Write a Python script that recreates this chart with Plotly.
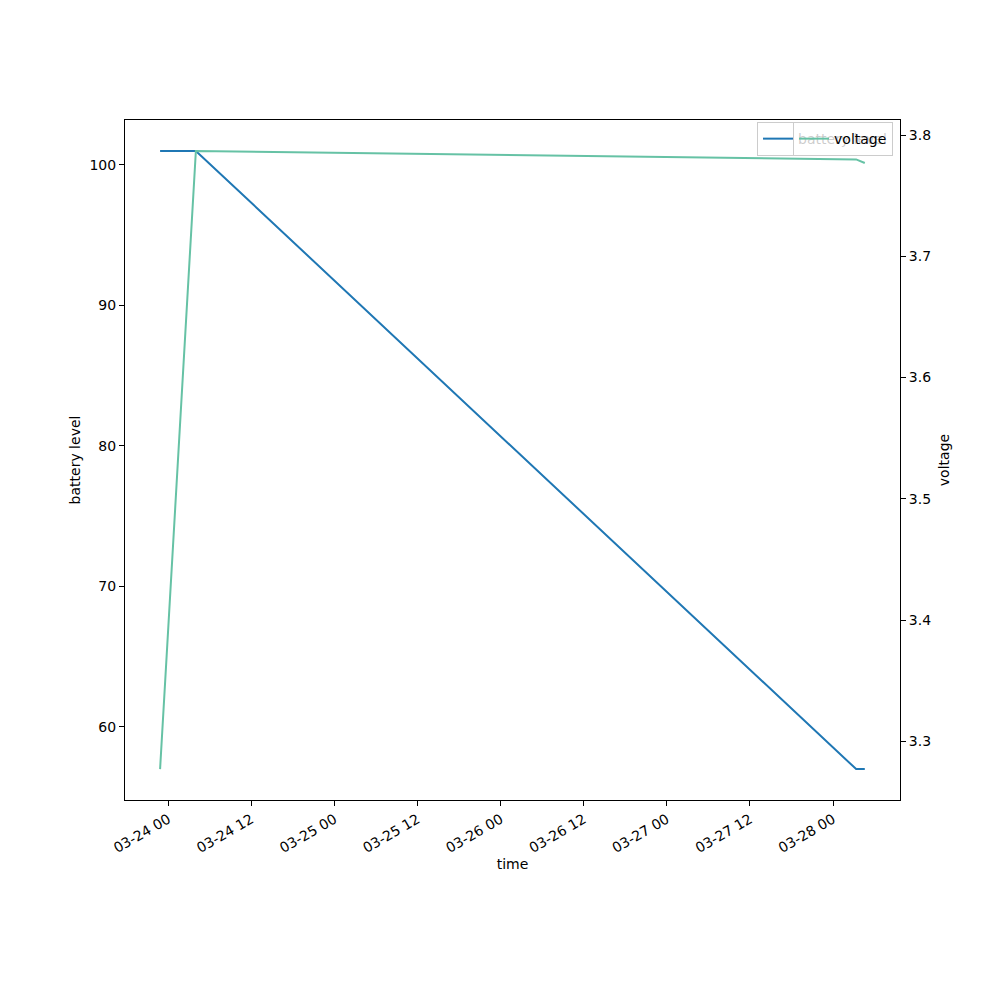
import plotly.graph_objects as go

times = ["2023-03-23 22:50", "2023-03-24 04:00", "2023-03-28 03:20", "2023-03-28 04:35"]
battery_level = [101, 101, 57, 57]
voltage = [3.277, 3.787, 3.780, 3.777]

tick_vals = ["2023-03-24 00:00", "2023-03-24 12:00", "2023-03-25 00:00", "2023-03-25 12:00",
             "2023-03-26 00:00", "2023-03-26 12:00", "2023-03-27 00:00", "2023-03-27 12:00",
             "2023-03-28 00:00"]
tick_text = ["03-24 00", "03-24 12", "03-25 00", "03-25 12", "03-26 00",
             "03-26 12", "03-27 00", "03-27 12", "03-28 00"]

FONT = "DejaVu Sans"
FS = 14
fig = go.Figure()
fig.add_trace(go.Scatter(x=times, y=battery_level, mode="lines", name="battery level",
                         line=dict(color="#1f77b4", width=2), yaxis="y", legend="legend",
                         showlegend=True))
fig.add_trace(go.Scatter(x=times, y=voltage, mode="lines", name="voltage",
                         line=dict(color="#66c2a5", width=2), yaxis="y2", legend="legend2",
                         showlegend=True))

axis_common = dict(showgrid=False, zeroline=False, showline=True, linecolor="black", linewidth=1,
                   ticks="outside", ticklen=5, tickcolor="black",
                   tickfont=dict(family=FONT, size=FS, color="black"))

legend_common = dict(xref="paper", yref="paper", xanchor="right", yanchor="top",
                     bgcolor="rgba(255,255,255,0.8)", bordercolor="#cccccc", borderwidth=1,
                     font=dict(family=FONT, size=FS, color="black"), itemwidth=30)

fig.update_layout(
    width=1000, height=1000,
    margin=dict(l=117, r=108, t=112, b=208, pad=0),
    paper_bgcolor="white", plot_bgcolor="white",
    font=dict(family=FONT, size=FS, color="black"),
    showlegend=True,
    xaxis=dict(**axis_common, mirror=True, range=["2023-03-23 17:46", "2023-03-28 09:40"],
               tickvals=tick_vals, ticktext=tick_text, tickangle=-30,
               title=dict(text="time", font=dict(family=FONT, size=FS), standoff=3)),
    yaxis=dict(**axis_common, mirror=True, range=[54.8, 103.2], tickvals=[60, 70, 80, 90, 100],
               title=dict(text="battery level", font=dict(family=FONT, size=FS), standoff=5)),
    yaxis2=dict(**axis_common, overlaying="y", side="right", range=[3.2515, 3.8125],
                tickvals=[3.3, 3.4, 3.5, 3.6, 3.7, 3.8], tickformat=".1f",
                title=dict(text="voltage", font=dict(family=FONT, size=FS), standoff=9)),
    legend=dict(x=0.991, y=0.997, **legend_common),
    legend2=dict(x=0.991, y=0.997, **legend_common),
)

fig.write_html("out.html")
